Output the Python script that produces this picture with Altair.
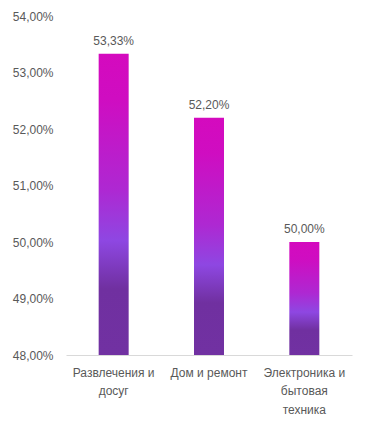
import altair as alt
import pandas as pd

categories = ["Развлечения и|досуг", "Дом и ремонт", "Электроника и|бытовая|техника"]
values = [0.5333, 0.5220, 0.5000]
y_ticks = [0.48, 0.49, 0.50, 0.51, 0.52, 0.53, 0.54]

df = pd.DataFrame({"cat": categories, "val": values})

font = "Liberation Sans"
text_color = "#595959"

gradient = alt.LinearGradient(
    gradient="linear", x1=0, y1=0, x2=0, y2=1,
    stops=[
        alt.GradientStop(offset=0, color="#d40abe"),
        alt.GradientStop(offset=0.15, color="#cf0dc1"),
        alt.GradientStop(offset=0.45, color="#ae28d2"),
        alt.GradientStop(offset=0.62, color="#8e47e2"),
        alt.GradientStop(offset=0.78, color="#7030a0"),
        alt.GradientStop(offset=1, color="#7131a2"),
    ],
)

x = alt.X("cat:N", sort=categories, title=None,
          scale=alt.Scale(paddingInner=0, paddingOuter=0),
          axis=alt.Axis(labelAngle=0, labelExpr="split(datum.label, '|')",
                        labelFont=font, labelFontSize=12, labelColor=text_color,
                        labelLineHeight=18.5, labelPadding=12, ticks=False,
                        domainColor="#d9d9d9", domainWidth=1, labelBaseline="top"))
y_scale = alt.Scale(domain=[0.48, 0.54], zero=False, nice=False)

bars = alt.Chart(df).mark_bar(size=30, color=gradient).encode(
    x=x,
    y=alt.Y("val:Q", scale=y_scale, title=None,
            axis=alt.Axis(values=y_ticks, grid=False, domain=False, ticks=False,
                          labelExpr="replace(format(datum.value, '.2%'), '.', ',')",
                          labelFont=font, labelFontSize=12, labelColor=text_color,
                          labelPadding=13)),
    y2=alt.datum(0.48),
)

labels = alt.Chart(df).mark_text(dy=-6, baseline="bottom", font=font, fontSize=12,
                                 color=text_color).encode(
    x=alt.X("cat:N", sort=categories),
    y=alt.Y("val:Q", scale=y_scale),
    text=alt.Text("lbl:N"),
).transform_calculate(lbl="replace(format(datum.val, '.2%'), '.', ',')")

chart = alt.layer(bars, labels).properties(
    width=286, height=339,
    autosize=alt.AutoSizeParams(type="none"),
    padding={"left": 58, "top": 8, "right": 6, "bottom": 60},
).configure_view(stroke=None)

chart.save("out.html", embed_options={"renderer": "svg", "actions": False})
